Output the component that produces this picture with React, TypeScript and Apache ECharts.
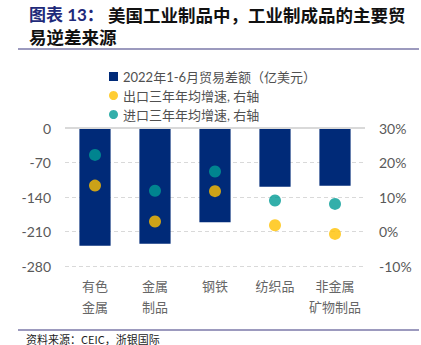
import React, { useEffect, useRef } from "react";
import * as echarts from "echarts";

const categories = ["有色\n金属", "金属\n制品", "钢铁", "纺织品", "非金属\n矿物制品"];
const tradeBalance = [-239, -235, -191, -119, -117];
const exportGrowth = [13.3, 2.9, 11.7, 1.8, -0.7];
const importGrowth = [22.2, 11.8, 17.4, 9.0, 8.0];
const leftTicks = { min: -280, max: 0, interval: 70 };
const rightTicks = { min: -10, max: 30, interval: 10 };
const seriesNames = ["2022年1-6月贸易差额（亿美元）", "出口三年年均增速, 右轴", "进口三年年均增速, 右轴"];

const FONT = 'Lato, "Noto Sans CJK SC", sans-serif';
const CJK = '"Noto Sans CJK SC", sans-serif';

export default function App() {
  const ref = useRef<HTMLDivElement>(null);
  useEffect(() => {
    const chart = echarts.init(ref.current!, undefined, { renderer: "svg" });
    chart.setOption({
      animation: false,
      backgroundColor: "#ffffff",
      grid: { left: 65, right: 56, top: 128, bottom: 79 },
      legend: {
        orient: "vertical",
        left: 104,
        top: 65,
        itemWidth: 9,
        itemHeight: 9,
        itemGap: 6,
        textStyle: { color: "#505050", fontSize: 13, fontFamily: FONT },
        data: [
          { name: seriesNames[0], icon: "rect" },
          { name: seriesNames[1], icon: "circle" },
          { name: seriesNames[2], icon: "circle" },
        ],
      },
      xAxis: {
        type: "category",
        data: categories,
        axisLine: { show: false },
        axisTick: { show: false },
        axisLabel: {
          color: "#666666",
          fontSize: 13,
          fontFamily: CJK,
          lineHeight: 21,
          margin: 9,
          interval: 0,
        },
      },
      yAxis: [
        {
          type: "value",
          min: leftTicks.min,
          max: leftTicks.max,
          interval: leftTicks.interval,
          axisLine: { show: false },
          axisTick: { show: false },
          axisLabel: { color: "#595959", fontSize: 14, fontFamily: FONT, margin: 14 },
          splitLine: { show: true, lineStyle: { color: "#D9D9D9", type: [4, 3], width: 1 } },
        },
        {
          type: "value",
          min: rightTicks.min,
          max: rightTicks.max,
          interval: rightTicks.interval,
          axisLine: { show: false },
          axisTick: { show: false },
          axisLabel: { color: "#595959", fontSize: 14, fontFamily: FONT, margin: 14, formatter: "{value}%" },
          splitLine: { show: false },
        },
      ],
      series: [
        {
          name: seriesNames[0],
          type: "bar",
          data: tradeBalance,
          barWidth: "52%",
          itemStyle: { color: "#002A78" },
          markLine: {
            silent: true,
            symbol: ["none", "none"],
            label: { show: false },
            lineStyle: { color: "#D9D9D9", type: "solid", width: 2 },
            data: [{ yAxis: 0 }],
          },
          z: 2,
        },
        {
          name: seriesNames[1],
          type: "scatter",
          yAxisIndex: 1,
          data: exportGrowth,
          symbolSize: 12,
          itemStyle: { color: "#FFC000" },
          z: 3,
        },
        {
          name: seriesNames[2],
          type: "scatter",
          yAxisIndex: 1,
          data: importGrowth,
          symbolSize: 12,
          itemStyle: { color: "#009B95" },
          z: 3,
        },
      ],
      graphic: [
        {
          type: "text",
          left: 29,
          top: 6,
          style: {
            text: "{a|图表 13：}{b|美国工业制品中，工业制成品的主要贸}",
            rich: {
              a: { fontSize: 17, fontWeight: "bold", fill: "#1F2A7A", fontFamily: FONT, width: 79 },
              b: { fontSize: 17.5, fontWeight: "bold", fill: "#111111", fontFamily: CJK },
            },
          },
        },
        {
          type: "text",
          left: 29,
          top: 28,
          style: { text: "易逆差来源", fontSize: 17.5, fontWeight: "bold", fill: "#111111", fontFamily: CJK },
        },
        {
          type: "line",
          shape: { x1: 18, y1: 49, x2: 419, y2: 49 },
          style: { stroke: "#7B78A8", lineWidth: 1.5 },
        },
        {
          type: "line",
          shape: { x1: 18, y1: 330, x2: 419, y2: 330 },
          style: { stroke: "#7B78A8", lineWidth: 1.5 },
        },
        {
          type: "text",
          left: 26,
          top: 333,
          style: { text: "资料来源：CEIC，浙银国际", fontSize: 11, fill: "#222222", fontFamily: CJK },
        },
      ],
    });
    return () => chart.dispose();
  }, []);
  return <div ref={ref} style={{ width: 421, height: 345, position: "absolute", left: 0, top: 0 }} />;
}
